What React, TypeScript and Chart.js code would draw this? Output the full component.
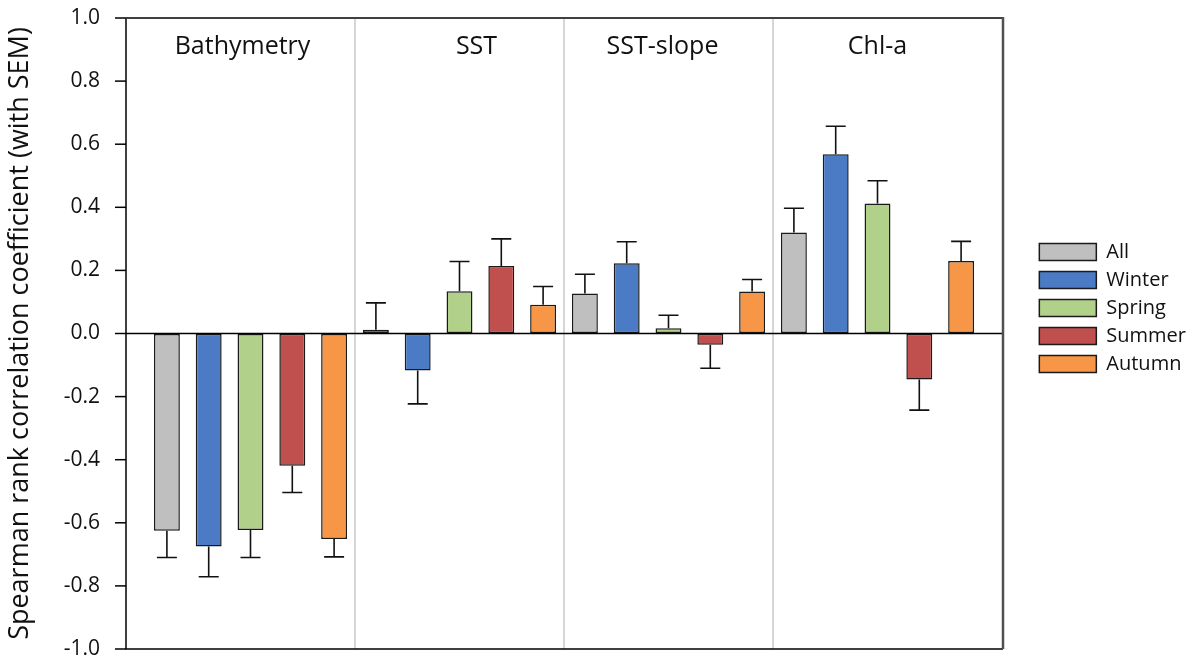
import React, { useEffect, useRef } from 'react';
import { Chart, registerables } from 'chart.js';

Chart.register(...registerables);

// ---------- data ----------
const groups = ['Bathymetry', 'SST', 'SST-slope', 'Chl-a'];
const seasons = ['All', 'Winter', 'Spring', 'Summer', 'Autumn'];

const allVals = [-0.625, 0.012, 0.127, 0.32];
const allErr = [0.085, 0.085, 0.061, 0.077];
const winterVals = [-0.675, -0.117, 0.223, 0.568];
const winterErr = [0.096, 0.106, 0.068, 0.089];
const springVals = [-0.623, 0.134, 0.017, 0.412];
const springErr = [0.087, 0.094, 0.041, 0.072];
const summerVals = [-0.419, 0.214, -0.036, -0.146];
const summerErr = [0.085, 0.086, 0.074, 0.097];
const autumnVals = [-0.651, 0.091, 0.133, 0.23];
const autumnErr = [0.057, 0.058, 0.038, 0.062];

const yMin = -1.0;
const yMax = 1.0;
const yStep = 0.2;
const yTitle = 'Spearman rank correlation coefficient (with SEM)';

// ---------- styles ----------
const seasonColors = ['#BFBFBF', '#4A7BC4', '#B1D08A', '#C0504D', '#F79646'];
const valueSets = [allVals, winterVals, springVals, summerVals, autumnVals];
const errorSets = [allErr, winterErr, springErr, summerErr, autumnErr];
const groupLabelNudge = [-8, 17, -6, 0];
const FONT = "'Open Sans', 'Noto Sans', sans-serif";
const RIGHT_PAD = -7;
const PLOT_RIGHT = 982;

const framePlugin = {
  id: 'frameAndErrors',
  beforeDatasetsDraw(chart: any) {
    const { ctx, chartArea: ca, scales } = chart;
    const x = scales.x;
    ctx.save();
    ctx.strokeStyle = '#C8C8C8';
    ctx.lineWidth = 1.5;
    for (let i = 1; i < groups.length; i++) {
      const px = (x.getPixelForValue(i - 1) + x.getPixelForValue(i)) / 2;
      ctx.beginPath();
      ctx.moveTo(px, ca.top);
      ctx.lineTo(px, ca.bottom);
      ctx.stroke();
    }
    // group labels
    ctx.fillStyle = '#111';
    ctx.font = `25px ${FONT}`;
    ctx.textAlign = 'center';
    ctx.textBaseline = 'middle';
    groups.forEach((g, i) => {
      ctx.fillText(g, x.getPixelForValue(i) + groupLabelNudge[i], ca.top + 29);
    });
    ctx.restore();
  },
  afterDatasetsDraw(chart: any) {
    const { ctx, chartArea: ca, scales } = chart;
    const y = scales.y;
    const left = ca.left - 20;
    const right = ca.right + 21;
    ctx.save();
    // error bars
    ctx.strokeStyle = '#111';
    ctx.lineWidth = 1.6;
    chart.data.datasets.forEach((ds: any, di: number) => {
      const meta = chart.getDatasetMeta(di);
      const errs = errorSets[di];
      meta.data.forEach((bar: any, j: number) => {
        const v = ds.data[j];
        const e = errs[j];
        const y0 = y.getPixelForValue(v);
        const y1 = y.getPixelForValue(v >= 0 ? v + e : v - e);
        ctx.beginPath();
        ctx.moveTo(bar.x, y0);
        ctx.lineTo(bar.x, y1);
        ctx.moveTo(bar.x - 10, y1);
        ctx.lineTo(bar.x + 10, y1);
        ctx.stroke();
      });
    });
    // zero line
    const y0 = y.getPixelForValue(0);
    ctx.strokeStyle = '#000';
    ctx.lineWidth = 1.5;
    ctx.beginPath();
    ctx.moveTo(left, y0);
    ctx.lineTo(right, y0);
    ctx.stroke();
    // y tick marks
    y.ticks.forEach((t: any) => {
      const py = y.getPixelForValue(t.value);
      ctx.beginPath();
      ctx.moveTo(left - 11, py);
      ctx.lineTo(left, py);
      ctx.stroke();
    });
    // frame
    ctx.beginPath();
    ctx.moveTo(left, ca.top);
    ctx.lineTo(left, ca.bottom);
    ctx.lineTo(right, ca.bottom);
    ctx.stroke();
    ctx.strokeStyle = '#404040';
    ctx.lineWidth = 2;
    ctx.beginPath();
    ctx.moveTo(left, ca.top);
    ctx.lineTo(right, ca.top);
    ctx.stroke();
    ctx.strokeStyle = '#505050';
    ctx.lineWidth = 2.5;
    ctx.beginPath();
    ctx.moveTo(right, ca.top - 1);
    ctx.lineTo(right, ca.bottom);
    ctx.stroke();
    ctx.restore();
  },
};

export default function App() {
  const canvasRef = useRef<HTMLCanvasElement | null>(null);

  useEffect(() => {
    if (!canvasRef.current) return;
    const chart = new Chart(canvasRef.current, {
      type: 'bar',
      data: {
        labels: groups,
        datasets: seasons.map((s, i) => ({
          label: s,
          data: valueSets[i],
          backgroundColor: seasonColors[i],
          borderColor: '#1A1A1A',
          borderWidth: 1.5,
          borderSkipped: false,
          categoryPercentage: 1.0,
          barPercentage: 0.62,
          yAxisID: 'y',
        })),
      },
      options: {
        responsive: false,
        animation: false,
        layout: { padding: { top: 18, bottom: 15, left: 0, right: RIGHT_PAD } },
        plugins: {
          tooltip: { enabled: false },
          legend: {
            position: 'right',
            align: 'start',
            title: {
              display: true,
              text: '',
              font: { size: 10, lineHeight: 1 },
              padding: { top: 206, bottom: 0 },
            },
            labels: {
              boxWidth: 57,
              boxHeight: 17,
              padding: 8,
              color: '#111',
              font: { family: FONT, size: 20 },
            },
          },
        },
        scales: {
          x: {
            display: false,
            grid: { display: false },
          },
          y: {
            position: 'left',
            min: yMin,
            max: yMax,
            grid: {
              display: true,
              drawOnChartArea: false,
              drawTicks: true,
              tickLength: 44,
              color: 'rgba(0,0,0,0)',
            },
            border: { display: false },
            ticks: {
              stepSize: yStep,
              padding: 2,
              color: '#111',
              font: { family: FONT, size: 21 },
              callback: (v: any) => {
                const n = Number(v);
                return (Math.abs(n) < 1e-9 ? 0 : n).toFixed(1);
              },
            },
            title: {
              display: true,
              text: yTitle,
              color: '#111',
              font: { family: FONT, size: 27 },
              padding: { top: 4, bottom: 0 },
            },
            afterFit: (s: any) => {
              s.width = 146;
            },
          },
          y2: {
            position: 'right',
            display: true,
            grid: { display: false },
            border: { display: false },
            ticks: { display: false },
            afterFit: (s: any) => {
              const lw = s.chart.legend && s.chart.legend.width ? s.chart.legend.width : 162;
              s.width = Math.max(0, s.chart.width - RIGHT_PAD - PLOT_RIGHT - lw);
            },
          },
        },
      },
      plugins: [framePlugin],
    });
    return () => chart.destroy();
  }, []);

  return (
    <div style={{ position: 'absolute', left: 0, top: 0, width: 1189, height: 664, background: '#fff' }}>
      <canvas ref={canvasRef} width={1189} height={664} style={{ display: 'block' }} />
    </div>
  );
}
